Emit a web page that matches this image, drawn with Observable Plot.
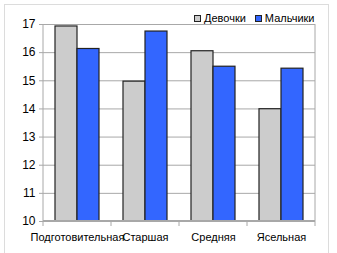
<!DOCTYPE html>
<html><head><meta charset="utf-8">
<script src="https://cdn.jsdelivr.net/npm/d3@7"></script>
<script src="https://cdn.jsdelivr.net/npm/@observablehq/plot@0.6"></script>
<style>
body{margin:0;background:#fff;}
#wrap{position:relative;width:337px;height:253px;overflow:hidden;font-family:"Liberation Sans",Arial,sans-serif;}
#frame{position:absolute;left:4px;top:4px;width:325px;height:270px;border:1px solid #dcdcdc;box-sizing:border-box;}
#chart{position:absolute;left:0;top:0;}
#legend{position:absolute;top:12px;left:194px;display:flex;align-items:center;font-size:11px;color:#000;white-space:nowrap;}
#legend span.sw{display:inline-block;width:5px;height:5px;border:1px solid #222;margin-right:3px;}
#legend span.item{display:flex;align-items:center;margin-right:9px;}
</style>
</head><body>
<div id="wrap"><div id="frame"></div><div id="chart"></div><div id="legend"></div></div>
<script>
const groups = ["Подготовительная", "Старшая", "Средняя", "Ясельная"];
const seriesNames = ["Девочки", "Мальчики"];
const girls = [16.93, 14.97, 16.05, 13.99];
const boys = [16.13, 16.75, 15.5, 15.43];
const yTicks = [10, 11, 12, 13, 14, 15, 16, 17];
const colors = ["#cccccc", "#3366ff"];

const data = [];
groups.forEach((g, i) => {
  data.push({group: g, series: seriesNames[0], value: girls[i]});
  data.push({group: g, series: seriesNames[1], value: boys[i]});
});

const font = '"Liberation Sans",Arial,sans-serif';
const plot = Plot.plot({
  width: 337, height: 253,
  marginLeft: 42, marginRight: 21, marginTop: 24, marginBottom: 32,
  style: {fontFamily: font, fontSize: "12px", color: "#000", background: "transparent", overflow: "visible"},
  y: {domain: [10, 17], ticks: yTicks},
  fx: {domain: groups, padding: 0},
  x: {domain: seriesNames, paddingInner: 0, paddingOuter: 0.49, axis: null},
  color: {domain: seriesNames, range: colors},
  marks: [
    Plot.gridY(yTicks, {stroke: "#a8a8a8", strokeOpacity: 1}),
    Plot.axisY(yTicks, {tickSize: 4, tickPadding: 4, stroke: "#a8a8a8", fill: "#000", label: null, fontSize: "12px"}),
    Plot.barY(data, {fx: "group", x: "series", y1: 10, y2: "value", fill: "series", stroke: "#222", strokeWidth: 1.2}),
    Plot.axisFx({anchor: "bottom", tickSize: 0, tickPadding: 12, label: null, fontSize: "11px"})
  ]
});
document.getElementById("chart").appendChild(plot);

// plot-area outline & category ticks using the plot's scales
const fx = plot.scale("fx"), y = plot.scale("y");
const svg = d3.select(plot);
const left = fx.apply(groups[0]);
const right = fx.apply(groups[groups.length - 1]) + fx.bandwidth;
const yTop = y.apply(17), yBot = y.apply(10);
const g = svg.append("g").attr("stroke", "#a8a8a8").attr("fill", "none");
g.append("line").attr("x1", left).attr("x2", left).attr("y1", yTop).attr("y2", yBot);
g.append("line").attr("x1", right).attr("x2", right).attr("y1", yTop).attr("y2", yBot);
g.append("line").attr("x1", left).attr("x2", right).attr("y1", yBot).attr("y2", yBot).attr("stroke-width", 2);
[...groups.map(d => fx.apply(d)), right].forEach(x => {
  g.append("line").attr("x1", x).attr("x2", x).attr("y1", yBot).attr("y2", yBot + 5);
});

const legend = d3.select("#legend");
seriesNames.forEach((s, i) => {
  const it = legend.append("span").attr("class", "item");
  it.append("span").attr("class", "sw").style("background", colors[i]);
  it.append("span").text(s);
});
</script>
</body></html>
